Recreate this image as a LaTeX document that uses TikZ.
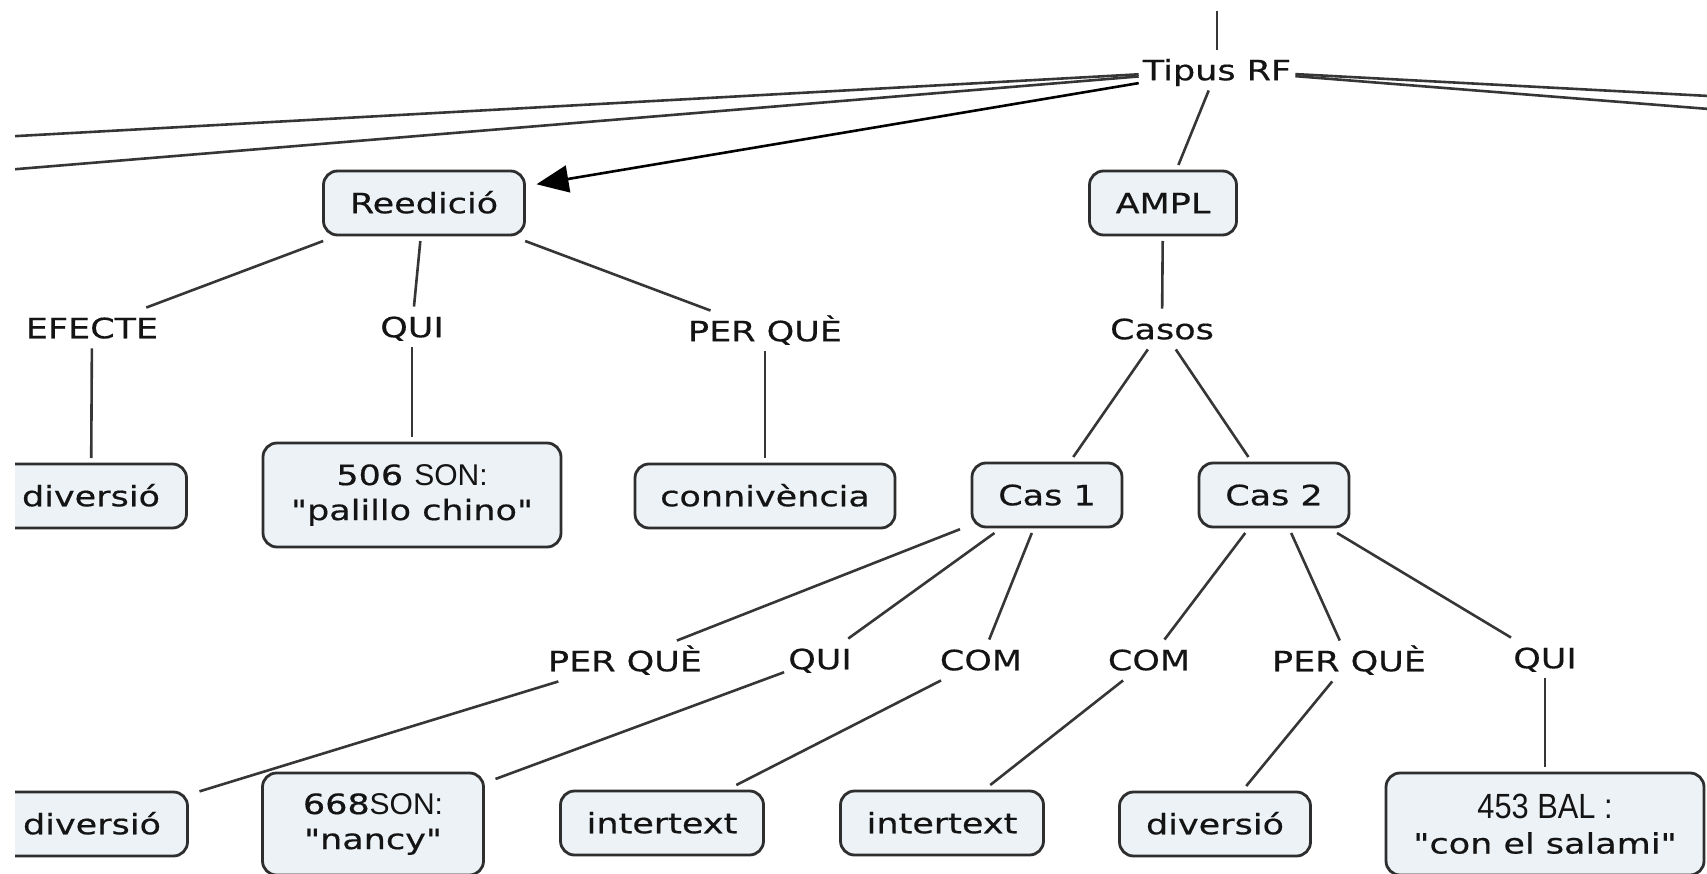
\documentclass[tikz,border=0pt]{standalone}
\usepackage{fontspec}
% Verdana-like face, widened; no TeX ligature mapping so " stays straight
\newfontfamily\mapfont{DejaVu Sans}[FakeStretch=1.25, FakeBold=0.5]
\newfontfamily\codefont{Liberation Sans}
\newfontfamily\codefontnarrow{Liberation Sans}[FakeStretch=0.88]
\usetikzlibrary{arrows.meta}
\definecolor{boxfill}{HTML}{ECF2F6}
\definecolor{boxline}{HTML}{2E2E2E}
\definecolor{linkline}{HTML}{363636}
\definecolor{ink}{HTML}{141414}
\begin{document}
\begin{tikzpicture}[x=1pt,y=-1pt,
  every node/.style={font=\mapfont\fontsize{28}{35}\selectfont, text=ink},
  conceptbase/.style={draw=boxline, line width=2.8pt, fill=boxfill,
    rounded corners=14pt, inner xsep=18pt, inner ysep=0pt,
    outer xsep=12pt, outer ysep=6pt},
  concept/.style={conceptbase, minimum height=64pt,
    text height=20.5pt, text depth=0pt},
  concepttwo/.style={conceptbase, align=center, minimum height=102pt},
  phrase/.style={inner xsep=4pt, inner ysep=10pt,
    text height=20.5pt, text depth=0pt},
  link/.style={draw=linkline, line width=2.6pt},
]
\useasboundingbox (0,0) rectangle (1707,874);
\clip (15,12) rectangle (1707,874);

% top level
\node[phrase] (tipus) at (1217,70) {Tipus RF};
\coordinate (above) at (1217,-100);
\coordinate (farleftA) at (-600,170);
\coordinate (farleftB) at (-600,220);
\coordinate (farrightA) at (2200,122);
\coordinate (farrightB) at (2200,148);

\node[concept, minimum width=201pt] (reed) at (424,203) {Reedició};
\node[concept, minimum width=147pt] (ampl) at (1163,203) {AMPL};

% Reedició branch
\node[phrase] (efecte)  at (92,328)  {EFECTE};
\node[phrase] (quiA)    at (412,327) {QUI};
\node[phrase] (perqueA) at (765,331) {PER QUÈ};
\node[concept, minimum width=191pt] (divA) at (91,496) {diversió};
\node[concepttwo, minimum width=298pt, minimum height=104pt] (son506) at (412,495)
  {506 {\codefont\fontsize{30}{35}\selectfont SON:}\hspace{10pt}\\"palillo chino"};
\node[concept, minimum width=260pt] (conniv) at (765,496) {connivència};

% AMPL branch
\node[phrase] (casos) at (1162,329) {Casos};
\node[concept, minimum width=150pt] (cas1) at (1047,495) {Cas 1};
\node[concept, minimum width=150pt] (cas2) at (1274,495) {Cas 2};

\node[phrase] (perqueB) at (625,661)  {PER QUÈ};
\node[phrase] (quiB)    at (820,659)  {QUI};
\node[phrase] (comB)    at (981,660)  {COM};
\node[phrase] (comC)    at (1149,660) {COM};
\node[phrase] (perqueC) at (1349,661) {PER QUÈ};
\node[phrase] (quiC)    at (1545,658) {QUI};

\node[concept, minimum width=191pt] (divB) at (92,824) {diversió};
\node[concepttwo, minimum width=221pt] (son668) at (373,824)
  {668{\codefont\fontsize{30}{35}\selectfont SON:}\hspace{10pt}\\"nancy"};
\node[concept, minimum width=203pt] (intA) at (662,823) {intertext};
\node[concept, minimum width=203pt] (intB) at (942,823) {intertext};
\node[concept, minimum width=191pt] (divC) at (1215,824) {diversió};
\node[concepttwo, minimum width=318pt] (bal453) at (1545,824)
  {{\codefontnarrow\fontsize{35}{35}\selectfont 453 BAL :}\hspace{14pt}\\"con el salami"};

% connectors
\draw[link] (above) -- (tipus);
\draw[link] (tipus) -- (farleftA);
\draw[link] (tipus) -- (farleftB);
\draw[link] (tipus) -- (farrightA);
\draw[link] (tipus) -- (farrightB);
\draw[link, -{Triangle[length=32pt, width=27pt]}, draw=black] (tipus) -- (reed);
\draw[link] (tipus) -- (ampl);

\draw[link] (reed) -- (efecte);
\draw[link] (reed) -- (quiA);
\draw[link] (reed) -- (perqueA);
\draw[link] (efecte) -- (divA);
\draw[link] (quiA) -- (son506);
\draw[link] (perqueA) -- (conniv);

\draw[link] (ampl) -- (casos);
\draw[link] (casos) -- (cas1);
\draw[link] (casos) -- (cas2);

\draw[link] (cas1) -- (perqueB);
\draw[link] (cas1) -- (quiB);
\draw[link] (cas1) -- (comB);
\draw[link] (cas2) -- (comC);
\draw[link] (cas2) -- (perqueC);
\draw[link] (cas2) -- (quiC);

\draw[link] (perqueB) -- (divB);
\draw[link] (quiB) -- (son668);
\draw[link] (comB) -- (intA);
\draw[link] (comC) -- (intB);
\draw[link] (perqueC) -- (divC);
\draw[link] (quiC) -- (bal453);
\end{tikzpicture}
\end{document}
